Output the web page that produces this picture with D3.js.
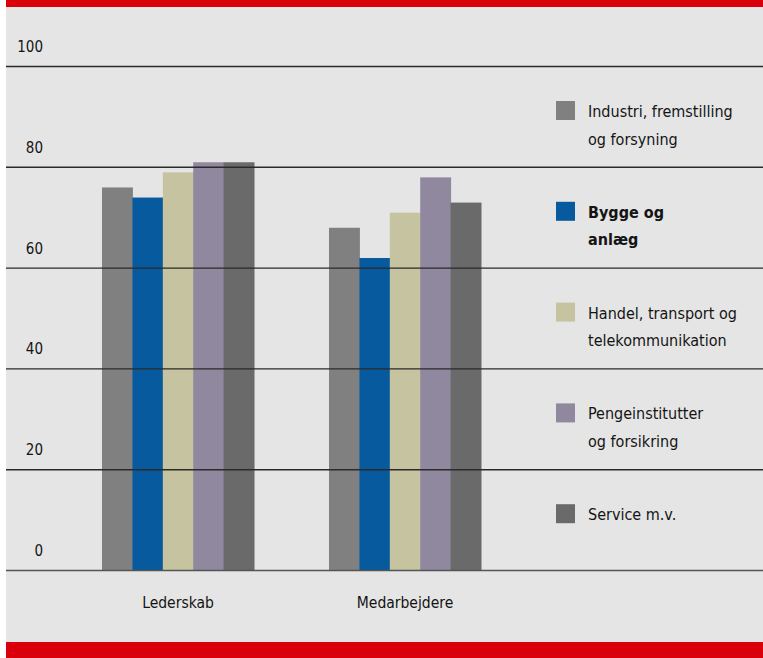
<!DOCTYPE html>
<html><head><meta charset="utf-8">
<script src="https://cdn.jsdelivr.net/npm/d3@7"></script>
<style>body{margin:0;background:#fff}svg{display:block}text{font-family:"DejaVu Sans Condensed","Liberation Sans Narrow",sans-serif;fill:#141414}</style>
</head><body><svg id="c" width="763" height="658"></svg>
<script>
const categories = ["Lederskab", "Medarbejdere"];
const seriesNames = ["Industri, fremstilling og forsyning", "Bygge og anlæg", "Handel, transport og telekommunikation", "Pengeinstitutter og forsikring", "Service m.v."];
const legendLines = [["Industri, fremstilling", "og forsyning"], ["Bygge og", "anlæg"], ["Handel, transport og", "telekommunikation"], ["Pengeinstitutter", "og forsikring"], ["Service m.v."]];
const legendBold = [false, true, false, false, false];
const industri = [76, 68];
const bygge = [74, 62];
const handel = [79, 71];
const penge = [81, 78];
const service = [81, 73];
const series = [industri, bygge, handel, penge, service];
const colors = ["#808080", "#065a9d", "#c5c3a0", "#8f889e", "#6a6a6a"];
const yTicks = [0, 20, 40, 60, 80, 100];

const svg = d3.select("#c");
svg.append("rect").attr("x", 6).attr("y", 0).attr("width", 757).attr("height", 658).attr("fill", "#e5e5e5");
svg.append("rect").attr("x", 6).attr("y", 0).attr("width", 757).attr("height", 7).attr("fill", "#da000b");
svg.append("rect").attr("x", 6).attr("y", 642).attr("width", 757).attr("height", 16).attr("fill", "#da000b");

const y = d3.scaleLinear().domain([0, 100]).range([570.5, 66.5]);
const x0 = d3.scaleBand().domain(categories).range([102, 481]).paddingInner(75 / 227).paddingOuter(0);
const x1 = d3.scaleBand().domain(d3.range(series.length)).range([0, x0.bandwidth()]);

// bars
categories.forEach((c, ci) => {
  svg.append("g").selectAll("rect").data(series.map((s, si) => ({si, v: s[ci]}))).join("rect")
    .attr("x", d => x0(c) + x1(d.si))
    .attr("y", d => y(d.v))
    .attr("width", x1.bandwidth() + 0.5)
    .attr("height", d => y(0) - y(d.v))
    .attr("fill", d => colors[d.si]);
});

// gridlines
svg.append("g").selectAll("line").data(yTicks).join("line")
  .attr("x1", 6).attr("x2", 763)
  .attr("y1", d => y(d)).attr("y2", d => y(d))
  .attr("stroke", d => d === 0 ? "#555" : "#2a2a2a").attr("stroke-width", 1.4);

// y labels
svg.append("g").selectAll("text").data(yTicks).join("text")
  .attr("x", 43).attr("y", d => y(d) - 14.5)
  .attr("text-anchor", "end").attr("font-size", 15)
  .text(d => d);

// category labels
svg.append("g").selectAll("text").data(categories).join("text")
  .attr("x", d => x0(d) + x0.bandwidth() / 2).attr("y", 608)
  .attr("text-anchor", "middle").attr("font-size", 15.5)
  .text(d => d);

// legend
const legendPos = [100, 80, 60, 40, 20];
const lg = svg.append("g").selectAll("g").data(seriesNames).join("g")
  .attr("transform", (d, i) => `translate(556,${y(legendPos[i]) + 34.5})`);
lg.append("rect").attr("width", 19).attr("height", 19).attr("fill", (d, i) => colors[i]);
lg.each(function(d, i) {
  const g = d3.select(this);
  legendLines[i].forEach((ln, li) => {
    g.append("text").attr("x", 32).attr("y", 16 + li * 27.5)
      .attr("font-size", 16).attr("font-weight", legendBold[i] ? "bold" : "normal")
      .text(ln);
  });
});
</script></body></html>
